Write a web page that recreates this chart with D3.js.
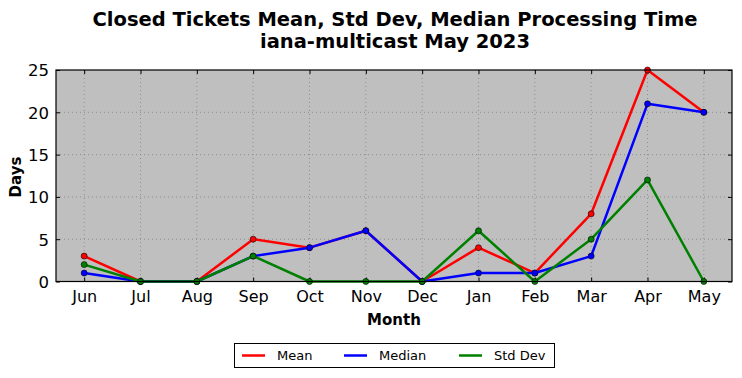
<!DOCTYPE html>
<html><head><meta charset="utf-8">
<script src="https://cdn.jsdelivr.net/npm/d3@7"></script>
<style>body{margin:0;background:#fff}svg{display:block}</style>
</head><body>
<svg id="c" width="742" height="378"></svg>
<script>
const months = ["Jun","Jul","Aug","Sep","Oct","Nov","Dec","Jan","Feb","Mar","Apr","May"];
const meanVals = [3,0,0,5,4,6,0,4,1,8,25,20];
const medianVals = [1,0,0,3,4,6,0,1,1,3,21,20];
const stdVals = [2,0,0,3,0,0,0,6,0,5,12,0];
const yTicks = [0,5,10,15,20,25];
const seriesNames = ["Mean","Median","Std Dev"];
const seriesColors = ["#ff0000","#0000ff","#008000"];

const svg = d3.select("#c");
const L=56,R=732,T=70,B=281.5;
const x = d3.scalePoint().domain(months).range([L,R]).padding(0.5);
const y = d3.scaleLinear().domain([0,25]).range([B,T]);
const font = "'DejaVu Sans', sans-serif";

svg.append("rect").attr("x",L).attr("y",T).attr("width",R-L).attr("height",B-T).attr("fill","#bfbfbf");

const g = svg.append("g");
g.selectAll(".gx").data(months).join("line")
  .attr("x1",d=>x(d)).attr("x2",d=>x(d)).attr("y1",T).attr("y2",B)
  .attr("stroke","#808080").attr("stroke-width",0.8).attr("stroke-dasharray","1,3");
g.selectAll(".gy").data(yTicks.slice(1,-1)).join("line")
  .attr("x1",L).attr("x2",R).attr("y1",d=>y(d)).attr("y2",d=>y(d))
  .attr("stroke","#808080").attr("stroke-width",0.8).attr("stroke-dasharray","1,3");

const ax = d3.axisBottom(x).tickSizeInner(-4).tickSizeOuter(0).tickPadding(9);
const axg = svg.append("g").attr("transform",`translate(0,${B})`).call(ax);
const ay = d3.axisLeft(y).tickValues(yTicks).tickSizeInner(-4).tickSizeOuter(0).tickPadding(7);
const ayg = svg.append("g").attr("transform",`translate(${L},0)`).call(ay);
const axt = svg.append("g").attr("transform",`translate(0,${T})`).call(d3.axisTop(x).tickSizeInner(-4).tickSizeOuter(0).tickFormat(""));
const ayr = svg.append("g").attr("transform",`translate(${R},0)`).call(d3.axisRight(y).tickValues(yTicks).tickSizeInner(-4).tickSizeOuter(0).tickFormat(""));
[axg,ayg,axt,ayr].forEach(a=>{a.select(".domain").remove();a.selectAll("line").attr("stroke","#000");});
axg.selectAll("text").attr("font-family",font).attr("font-size",16).attr("fill","#000");
ayg.selectAll("text").attr("font-family",font).attr("font-size",16.5).attr("fill","#000").attr("dy","0.36em");

const all = [meanVals, medianVals, stdVals];
const line = d3.line().x((d,i)=>x(months[i])).y(d=>y(d));
all.forEach((vals,k)=>{
  svg.append("path").datum(vals).attr("d",line).attr("fill","none")
    .attr("stroke",seriesColors[k]).attr("stroke-width",2.5).attr("stroke-linejoin","round");
  svg.append("g").selectAll("circle").data(vals).join("circle")
    .attr("cx",(d,i)=>x(months[i])).attr("cy",d=>y(d)).attr("r",3)
    .attr("fill",seriesColors[k]).attr("stroke","#000").attr("stroke-width",0.6);
});

svg.append("rect").attr("x",L).attr("y",T).attr("width",R-L).attr("height",B-T)
  .attr("fill","none").attr("stroke","#000").attr("stroke-width",1.2);

svg.append("text").attr("x",395).attr("y",26).attr("text-anchor","middle")
  .attr("font-family",font).attr("font-weight","bold").attr("font-size",19.5).text("Closed Tickets Mean, Std Dev, Median Processing Time");
svg.append("text").attr("x",395).attr("y",48).attr("text-anchor","middle")
  .attr("font-family",font).attr("font-weight","bold").attr("font-size",19.5).text("iana-multicast May 2023");
svg.append("text").attr("x",394).attr("y",325).attr("text-anchor","middle")
  .attr("font-family",font).attr("font-weight","bold").attr("font-size",15).text("Month");
svg.append("text").attr("transform","translate(21,177) rotate(-90)").attr("text-anchor","middle")
  .attr("font-family",font).attr("font-weight","bold").attr("font-size",15).text("Days");

const lg = svg.append("g");
lg.append("rect").attr("x",234.5).attr("y",343.5).attr("width",320).attr("height",24)
  .attr("fill","#fff").attr("stroke","#000").attr("stroke-width",1);
const lx = [242,344,459];
seriesNames.forEach((n,k)=>{
  lg.append("line").attr("x1",lx[k]).attr("x2",lx[k]+23).attr("y1",355.5).attr("y2",355.5)
    .attr("stroke",seriesColors[k]).attr("stroke-width",2.5);
  lg.append("text").attr("x",lx[k]+35).attr("y",360).attr("font-family",font).attr("font-size",13).text(n);
});
</script>
</body></html>
